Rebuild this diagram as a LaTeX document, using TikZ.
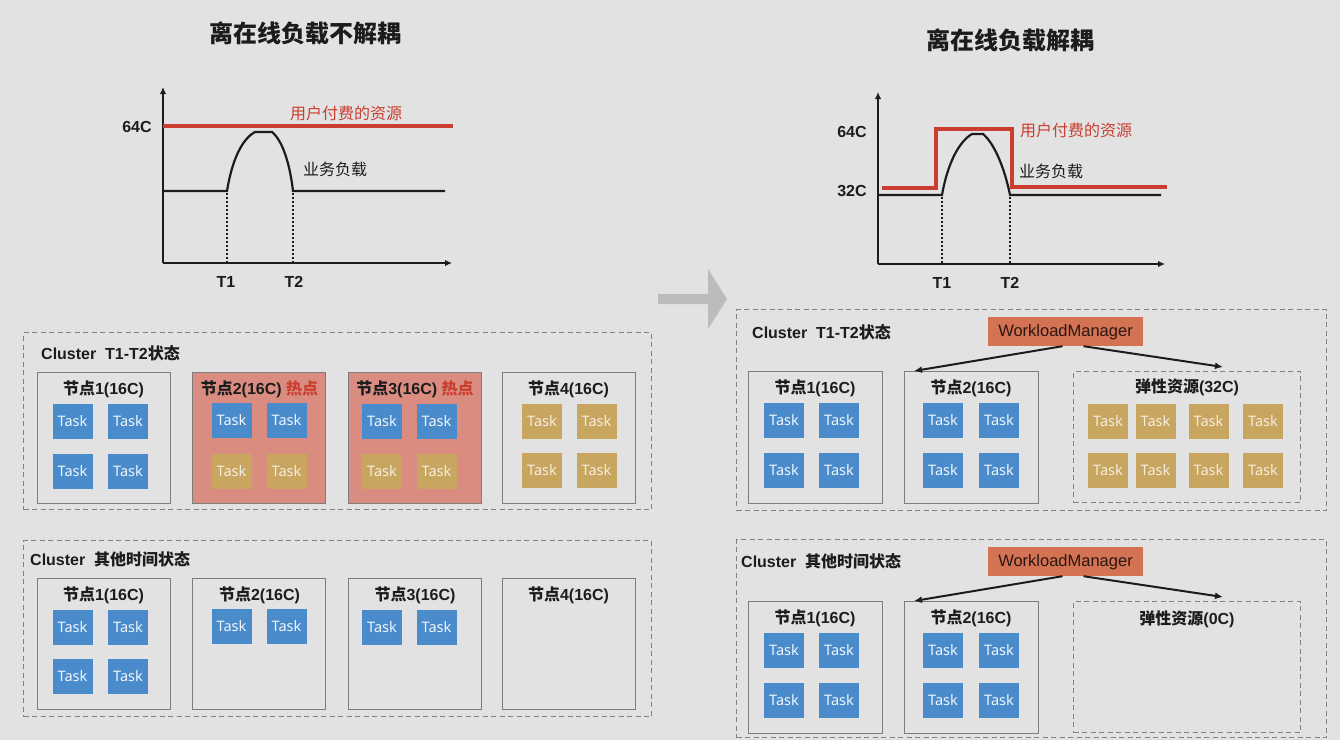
\documentclass[tikz,border=0pt]{standalone}
\usepackage{fontspec}
\setmainfont{Liberation Sans}
\newfontfamily\cjk{Noto Sans CJK SC}
\newfontfamily\taskfnt{Noto Sans}
\usetikzlibrary{arrows.meta,calc}
\definecolor{bg}{RGB}{226,226,226}
\definecolor{ink}{RGB}{28,28,28}
\definecolor{redl}{RGB}{202,62,48}
\definecolor{tblue}{RGB}{74,139,204}
\definecolor{tgold}{RGB}{201,166,96}
\definecolor{hot}{RGB}{217,140,127}
\definecolor{wmc}{RGB}{212,114,84}
\definecolor{boxline}{RGB}{125,125,125}
\definecolor{dashc}{RGB}{130,130,130}
\definecolor{bigarrow}{RGB}{188,188,188}
\newcommand\zh[1]{{\cjk #1}}
\newcommand\tk[4]{\node[#1] (#2) at (#3,#4) {Task};}
\tikzset{
  title/.style={font=\bfseries\fontsize{24}{28}\selectfont, text=ink},
  lbl/.style={font=\bfseries\fontsize{16}{19}\selectfont, text=ink, inner sep=0},
  clabel/.style={font=\bfseries\fontsize{16}{19}\selectfont, text=ink, inner sep=0, anchor=west},
  txt/.style={font=\fontsize{16}{19}\selectfont, text=ink, inner sep=0},
  cluster/.style={draw=dashc, line width=1.3pt, dash pattern=on 5pt off 3.5pt, anchor=north west, inner sep=0},
  nodebox/.style={draw=boxline, line width=1.2pt, anchor=north west, inner sep=0, minimum width=133pt, minimum height=131pt},
  hotbox/.style={nodebox, fill=hot},
  elbox/.style={draw=dashc, line width=1.3pt, dash pattern=on 5pt off 3.5pt, anchor=north west, inner sep=0, minimum width=227pt, minimum height=131pt},
  tb/.style={fill=tblue, text=white!92!tblue, minimum width=40pt, minimum height=35pt, inner sep=0, font=\taskfnt\fontsize{14.5}{16}\selectfont},
  tg/.style={tb, fill=tgold, text=white!80!tgold},
  wm/.style={fill=wmc, text=black!80!wmc, minimum width=155pt, minimum height=29pt, inner sep=0, text height=12pt, text depth=2pt, font=\fontsize{16.5}{19}\selectfont},
  conn/.style={draw=ink, line width=2pt, -{Latex[length=8pt,width=7pt]}},
  axis/.style={draw=ink, line width=2.1pt, -{Latex[length=7pt,width=6.5pt]}},
  load/.style={draw=ink, line width=2.2pt},
  paid/.style={draw=redl, line width=3.2pt, line join=miter},
  guide/.style={draw=ink, line width=1.8pt, dash pattern=on 2pt off 2pt}
}
\begin{document}
\begin{tikzpicture}[x=1pt,y=-1pt]
\fill[bg] (0,0) rectangle (1340,740);
\useasboundingbox (0,0) rectangle (1340,740);

% titles
\node[title] (tl) at (305,33) {\zh{离在线负载不解耦}};
\node[title] (tr) at (1010,40) {\zh{离在线负载解耦}};

% ---------- left chart ----------
\coordinate (lo) at (163,263);
\coordinate (ly) at (163,87);
\coordinate (lx) at (452,263);
\draw[axis] (lo) -- (ly);
\draw[axis] (lo) -- (lx);
\draw[paid] (163,126) -- (453,126);
\draw[load] (163,191) -- (227,191) .. controls (232,160) and (242,139) .. (255,132) -- (272,132) .. controls (283,141) and (290,165) .. (293,191) -- (445,191);
\draw[guide] (227,193) -- (227,262);
\draw[guide] (293,193) -- (293,262);
\node[lbl] (l64) at (137,127) {64C};
\node[lbl] (lt1) at (226,282) {T1};
\node[lbl] (lt2) at (294,282) {T2};
\node[txt, text=redl] (lpaid) at (346,113) {\zh{用户付费的资源}};
\node[txt] (lload) at (335,169) {\zh{业务负载}};

% ---------- right chart ----------
\coordinate (ro) at (878,264);
\coordinate (ry) at (878,92);
\coordinate (rx) at (1165,264);
\draw[axis] (ro) -- (ry);
\draw[axis] (ro) -- (rx);
\draw[paid] (882,188) -- (936,188) -- (936,129) -- (1012,129) -- (1012,187) -- (1167,187);
\draw[load] (878,195) -- (942,195) .. controls (947,166) and (958,142) .. (972,134) -- (983,134) .. controls (995,144) and (1005,170) .. (1010,195) -- (1161,195);
\draw[guide] (942,197) -- (942,263);
\draw[guide] (1010,197) -- (1010,263);
\node[lbl] (r64) at (852,132) {64C};
\node[lbl] (r32) at (852,191) {32C};
\node[lbl] (rt1) at (942,283) {T1};
\node[lbl] (rt2) at (1010,283) {T2};
\node[txt, text=redl] (rpaid) at (1076,130) {\zh{用户付费的资源}};
\node[txt] (rload) at (1051,171) {\zh{业务负载}};

% big arrow
\fill[bigarrow] (658,294) -- (708,294) -- (708,269) -- (727,299) -- (708,329) -- (708,304) -- (658,304) -- cycle;

% ---------- left cluster T1-T2 ----------
\node[cluster, minimum width=628pt, minimum height=177pt] (lc1) at (23,332) {};
\node[clabel] (lc1l) at (41,353) {Cluster\ \ T1-T2\zh{状态}};
\node[nodebox] (a1) at (37,372) {};
\node[hotbox] (a2) at (192,372) {};
\node[hotbox] (a3) at (348,372) {};
\node[nodebox] (a4) at (502,372) {};
\node[lbl] (a1t) at (103.5,389) {\zh{节点}1(16C)};
\node[lbl] (a2t) at (259.5,389) {\zh{节点}2(16C) \textcolor{redl}{\zh{热点}}};
\node[lbl] (a3t) at (415,389) {\zh{节点}3(16C) \textcolor{redl}{\zh{热点}}};
\node[lbl] (a4t) at (568.5,389) {\zh{节点}4(16C)};
\tk{tb}{a1k1}{72.5}{421.5}\tk{tb}{a1k2}{128}{421.5}\tk{tb}{a1k3}{72.5}{471}\tk{tb}{a1k4}{128}{471}
\tk{tb}{a2k1}{231.5}{420.5}\tk{tb}{a2k2}{286.5}{420.5}\tk{tg}{a2k3}{231.5}{471}\tk{tg}{a2k4}{286.5}{471}
\tk{tb}{a3k1}{382}{421}\tk{tb}{a3k2}{436.5}{421}\tk{tg}{a3k3}{382}{471}\tk{tg}{a3k4}{436.5}{471}
\tk{tg}{a4k1}{542}{421.5}\tk{tg}{a4k2}{596.5}{421.5}\tk{tg}{a4k3}{542}{470.5}\tk{tg}{a4k4}{596.5}{470.5}

% ---------- left cluster other ----------
\node[cluster, minimum width=628pt, minimum height=176pt] (lc2) at (23,540) {};
\node[clabel] (lc2l) at (30,559) {Cluster\ \ \zh{其他时间状态}};
\node[nodebox] (b1) at (37,578) {};
\node[nodebox] (b2) at (192,578) {};
\node[nodebox] (b3) at (348,578) {};
\node[nodebox] (b4) at (502,578) {};
\node[lbl] (b1t) at (103.5,595) {\zh{节点}1(16C)};
\node[lbl] (b2t) at (259.5,595) {\zh{节点}2(16C)};
\node[lbl] (b3t) at (415,595) {\zh{节点}3(16C)};
\node[lbl] (b4t) at (568.5,595) {\zh{节点}4(16C)};
\tk{tb}{b1k1}{72.5}{627.5}\tk{tb}{b1k2}{128}{627.5}\tk{tb}{b1k3}{72.5}{676.5}\tk{tb}{b1k4}{128}{676.5}
\tk{tb}{b2k1}{231.5}{626.5}\tk{tb}{b2k2}{286.5}{626.5}
\tk{tb}{b3k1}{382}{627.5}\tk{tb}{b3k2}{436.5}{627.5}

% ---------- right cluster T1-T2 ----------
\node[cluster, minimum width=590pt, minimum height=201pt] (rc1) at (736,309) {};
\node[clabel] (rc1l) at (752,332) {Cluster\ \ T1-T2\zh{状态}};
\node[wm] (wm1) at (1065.5,331.5) {WorkloadManager};
\node[nodebox, minimum width=134pt, minimum height=132pt] (c1) at (748,371) {};
\node[nodebox, minimum width=134pt, minimum height=132pt] (c2) at (904,371) {};
\node[elbox] (ce) at (1073,371) {};
\node[lbl] (c1t) at (815,388) {\zh{节点}1(16C)};
\node[lbl] (c2t) at (971,388) {\zh{节点}2(16C)};
\node[lbl] (cet) at (1187,387) {\zh{弹性资源}(32C)};
\tk{tb}{c1k1}{784}{420.5}\tk{tb}{c1k2}{839}{420.5}\tk{tb}{c1k3}{784}{470.5}\tk{tb}{c1k4}{839}{470.5}
\tk{tb}{c2k1}{943}{420.5}\tk{tb}{c2k2}{999}{420.5}\tk{tb}{c2k3}{943}{470.5}\tk{tb}{c2k4}{999}{470.5}
\tk{tg}{cek1}{1108}{421.5}\tk{tg}{cek2}{1155.5}{421.5}\tk{tg}{cek3}{1208.5}{421.5}\tk{tg}{cek4}{1263}{421.5}
\tk{tg}{cek5}{1108}{470.5}\tk{tg}{cek6}{1155.5}{470.5}\tk{tg}{cek7}{1208.5}{470.5}\tk{tg}{cek8}{1263}{470.5}
\coordinate (w1a) at ($(wm1.south)+(-3,0)$);
\coordinate (w1b) at ($(wm1.south)+(18,0)$);
\coordinate (c2in) at ($(c2.north west)+(10,0)$);
\coordinate (cein) at ($(ce.north west)+(150,-4)$);
\draw[conn] (w1a) -- (c2in);
\draw[conn] (w1b) -- (cein);

% ---------- right cluster other ----------
\node[cluster, minimum width=590pt, minimum height=198pt] (rc2) at (736,539) {};
\node[clabel] (rc2l) at (741,561) {Cluster\ \ \zh{其他时间状态}};
\node[wm] (wm2) at (1065.5,561.5) {WorkloadManager};
\node[nodebox, minimum width=134pt, minimum height=132pt] (d1) at (748,601) {};
\node[nodebox, minimum width=134pt, minimum height=132pt] (d2) at (904,601) {};
\node[elbox] (de) at (1073,601) {};
\node[lbl] (d1t) at (815,618) {\zh{节点}1(16C)};
\node[lbl] (d2t) at (971,618) {\zh{节点}2(16C)};
\node[lbl] (det) at (1187,619) {\zh{弹性资源}(0C)};
\tk{tb}{d1k1}{784}{650.5}\tk{tb}{d1k2}{839}{650.5}\tk{tb}{d1k3}{784}{700.5}\tk{tb}{d1k4}{839}{700.5}
\tk{tb}{d2k1}{943}{650.5}\tk{tb}{d2k2}{999}{650.5}\tk{tb}{d2k3}{943}{700.5}\tk{tb}{d2k4}{999}{700.5}
\coordinate (w2a) at ($(wm2.south)+(-3,0)$);
\coordinate (w2b) at ($(wm2.south)+(18,0)$);
\coordinate (d2in) at ($(d2.north west)+(10,0)$);
\coordinate (dein) at ($(de.north west)+(150,-4)$);
\draw[conn] (w2a) -- (d2in);
\draw[conn] (w2b) -- (dein);
\end{tikzpicture}
\end{document}
